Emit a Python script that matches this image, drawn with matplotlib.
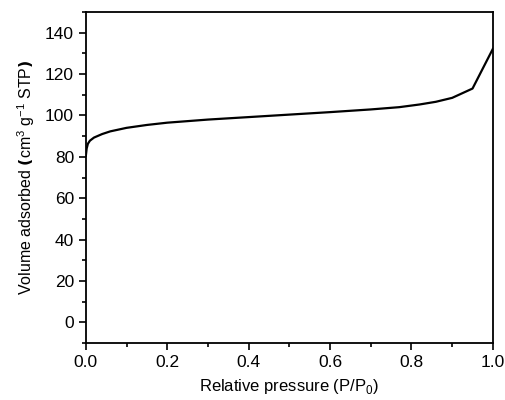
import numpy as np
import matplotlib
matplotlib.use("Agg")
import matplotlib.pyplot as plt
from matplotlib.ticker import MultipleLocator

plt.rcParams['font.family'] = ['Liberation Sans', 'DejaVu Sans']
plt.rcParams['mathtext.fontset'] = 'custom'
plt.rcParams['mathtext.rm'] = 'Liberation Sans'

# isotherm
rel_pressure = [0.0, 0.002, 0.005, 0.01, 0.02, 0.04, 0.06, 0.1, 0.15, 0.2, 0.3,
                0.4, 0.5, 0.6, 0.7, 0.77, 0.82, 0.86, 0.9, 0.95, 1.0]
volume = [80.5, 84.0, 86.3, 87.8, 89.3, 91.0, 92.3, 94.0, 95.4, 96.5, 98.0,
          99.2, 100.4, 101.6, 102.9, 104.0, 105.3, 106.6, 108.5, 113.0, 132.2]

fig = plt.figure(figsize=(5.05, 4.0), dpi=100)
ax = fig.add_axes([0.170, 0.1425, 0.806, 0.8275])
ax.plot(rel_pressure, volume, color="black", lw=1.6)

ax.set_xlim(0, 1.0)
ax.set_ylim(-10, 150)
ax.xaxis.set_major_locator(MultipleLocator(0.2))
ax.xaxis.set_minor_locator(MultipleLocator(0.1))
ax.yaxis.set_major_locator(MultipleLocator(20))
ax.yaxis.set_minor_locator(MultipleLocator(10))
ax.set_yticks(np.arange(0, 141, 20))
ax.tick_params(which="both", direction="out", top=False, right=False, labelsize=12.5)
ax.tick_params(which="major", length=5, width=1.2)
ax.tick_params(which="minor", length=3, width=1.2)
for s in ax.spines.values():
    s.set_linewidth(1.3)

ax.set_xlabel("Relative pressure (P/P$_0$)", fontsize=12, labelpad=5)
ax.set_ylabel(r"Volume adsorbed $\mathbf{(}$cm$^3$ g$^{-1}$ STP$\mathbf{)}$", fontsize=11.5, labelpad=6)

fig.savefig("out.png", dpi=100)
